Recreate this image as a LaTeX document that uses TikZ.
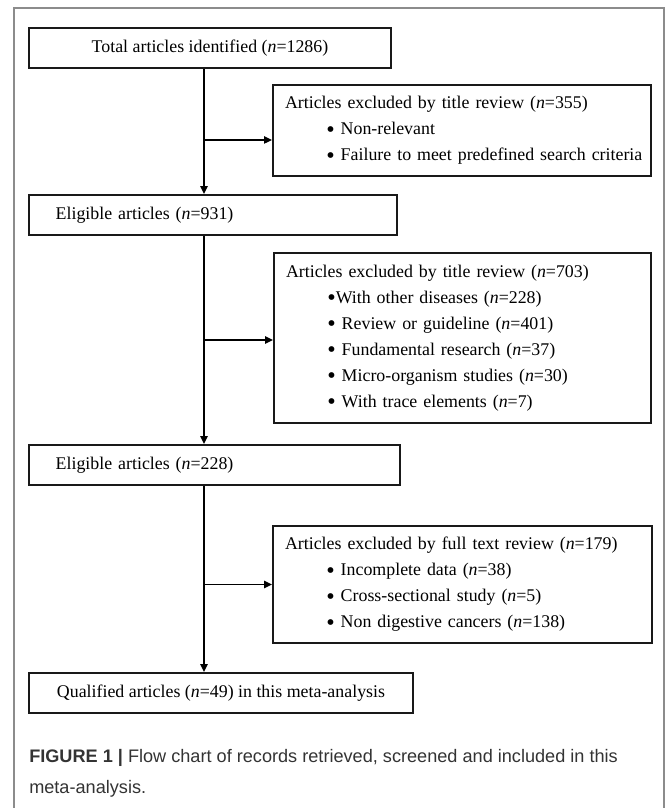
\documentclass[tikz,border=0pt]{standalone}
\usepackage{fontspec}
\usepackage{graphicx}
\setmainfont{Liberation Serif}
\newfontfamily\capfont{Liberation Sans}
\usetikzlibrary{arrows.meta}

\newcommand{\bigdot}{\raisebox{-2pt}{\scalebox{1.35}{\textbullet}}}
\newcommand{\dotline}[1]{\hspace*{31pt}\mbox{\bigdot\ #1}}

\begin{document}
\begin{tikzpicture}[x=0.75pt, y=-0.75pt,
		box/.style={draw=black!90, line width=1.5pt, inner ysep=0pt, font=\fontsize{13.4}{19.5}\selectfont},
		leftbox/.style={box, anchor=west, minimum height=30pt, inner xsep=20pt, align=left},
		sidebox/.style={box, anchor=north west, inner xsep=9pt, align=left},
		flow/.style={line width=1.1pt, -{Triangle[length=6pt, width=5.5pt]}}]
		\useasboundingbox (0,0) rectangle (669,808);
		\draw[black!45, line width=0.8pt] (14,808) -- (14,8) -- (664,8) -- (664,808);
		\coordinate (S) at (204,0);
		\draw (28,48) node[box, anchor=west, minimum width=271.5pt, minimum height=30pt] (T) {Total articles identified (\textit{n}=1286)};
		\draw (272,84) node[sidebox, text width=265.5pt, minimum height=68.25pt] (X1) {Articles excluded by title review (\textit{n}=355)\\
			\dotline{Non-relevant}\\
			\dotline{Failure to meet predefined search criteria}};
		\draw (28,215) node[leftbox, text width=236pt] (E1) {Eligible articles (\textit{n}=931)};
		\draw (273,252) node[sidebox, text width=264.75pt, minimum height=127.5pt] (X2) {Articles excluded by title review (\textit{n}=703)\\
			\hspace*{31pt}\mbox{\bigdot With other diseases (\textit{n}=228)}\\
			\dotline{Review or guideline (\textit{n}=401)}\\
			\dotline{Fundamental research (\textit{n}=37)}\\
			\dotline{Micro-organism studies (\textit{n}=30)}\\
			\dotline{With trace elements (\textit{n}=7)}};
		\draw (28,465) node[leftbox, text width=238.25pt] (E2) {Eligible articles (\textit{n}=228)};
		\draw (272,525) node[sidebox, text width=266.25pt, minimum height=87.75pt] (X3) {Articles excluded by full text review (\textit{n}=179)\\
			\dotline{Incomplete data (\textit{n}=38)}\\
			\dotline{Cross-sectional study (\textit{n}=5)}\\
			\dotline{Non digestive cancers (\textit{n}=138)}};
		\draw (28,693) node[box, anchor=west, minimum width=288pt, minimum height=30pt] (Q) {Qualified articles (\textit{n}=49) in this meta-analysis};
		\draw[flow] (T.south -| S) -- (E1.north -| S);
		\draw[flow] ([yshift=-7.1pt]X1.west -| S) -- ([yshift=-7.1pt]X1.west);
		\draw[flow] (E1.south -| S) -- (E2.north -| S);
		\draw[flow] ([yshift=-1.5pt]X2.west -| S) -- ([yshift=-1.5pt]X2.west);
		\draw[flow] (E2.south -| S) -- (Q.north -| S);
		\draw[flow] (X3.west -| S) -- (X3.west);
		\draw (29,793) node[anchor=base west, align=left, inner sep=0pt, text=black!80, font=\capfont\fontsize{13.6}{23}\selectfont] (C) {\textbf{FIGURE 1 |} Flow chart of records retrieved, screened and included in this\\meta-analysis.};
	\end{tikzpicture}
\end{document}
